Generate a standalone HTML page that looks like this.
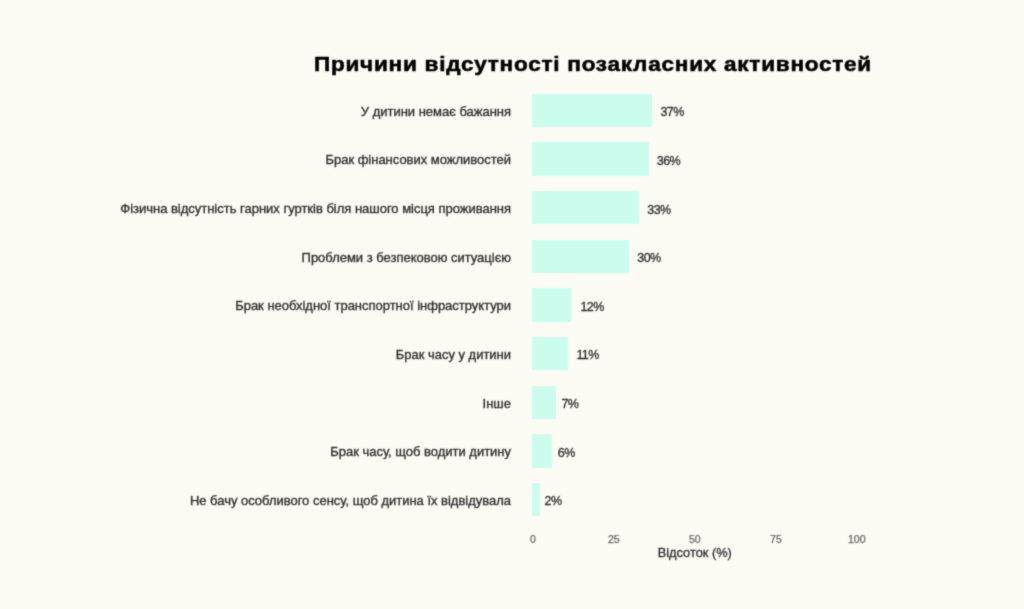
<!DOCTYPE html>
<html><head><meta charset="utf-8"><style>
html,body{margin:0;padding:0;}
body{width:1024px;height:609px;background:#fdfcf4;position:relative;overflow:hidden;font-family:"Liberation Sans",sans-serif;}
#wrap{position:absolute;left:0;top:0;width:1024px;height:609px;background:#fdfcf4;filter:url(#bl);}
.title{position:absolute;left:314px;top:49px;font-size:20.5px;letter-spacing:0.68px;font-weight:bold;color:#000;white-space:nowrap;line-height:30px;transform-origin:0 0;transform:scaleX(1.10);-webkit-text-stroke:0.55px #000;}
.bar{position:absolute;left:532.0px;height:33.6px;background:#cafdee;}
.lab{position:absolute;right:513.0px;font-size:12.97px;color:#2e2e2e;-webkit-text-stroke:0.35px #2e2e2e;white-space:nowrap;line-height:20px;margin-top:-8.8px;}
.val{position:absolute;font-size:12.5px;letter-spacing:-0.6px;color:#2e2e2e;-webkit-text-stroke:0.32px #2e2e2e;white-space:nowrap;line-height:20px;margin-top:-8.2px;}
.tick{position:absolute;top:530.9px;width:40px;margin-left:-20px;text-align:center;font-size:10.6px;color:#666;-webkit-text-stroke:0.25px #666;line-height:16px;}
.axt{position:absolute;top:543px;left:694.8px;width:120px;margin-left:-60px;text-align:center;font-size:12.8px;color:#2a2a2a;-webkit-text-stroke:0.3px #2a2a2a;line-height:20px;}
</style></head><body>
<svg width="0" height="0" style="position:absolute"><filter id="bl" x="0" y="0" width="100%" height="100%" color-interpolation-filters="sRGB"><feConvolveMatrix order="3" kernelMatrix="1 4 1 4 16 4 1 4 1" edgeMode="duplicate"/></filter></svg>
<div id="wrap">
<div class="title" id="title">Причини відсутності позакласних активностей</div>
<div class="bar" style="top:93.60px;width:120.20px"></div>
<div class="lab" style="top:110.40px">У дитини немає бажання</div>
<div class="val" style="top:110.40px;left:660.50px">37%</div>
<div class="bar" style="top:142.25px;width:117.20px"></div>
<div class="lab" style="top:159.05px">Брак фінансових можливостей</div>
<div class="val" style="top:159.05px;left:656.80px">36%</div>
<div class="bar" style="top:190.90px;width:107.40px"></div>
<div class="lab" style="top:207.70px">Фізична відсутність гарних гуртків біля нашого місця проживання</div>
<div class="val" style="top:207.70px;left:647.30px">33%</div>
<div class="bar" style="top:239.55px;width:97.10px"></div>
<div class="lab" style="top:256.35px">Проблеми з безпековою ситуацією</div>
<div class="val" style="top:256.35px;left:637.30px">30%</div>
<div class="bar" style="top:288.20px;width:39.40px"></div>
<div class="lab" style="top:305.00px">Брак необхідної транспортної інфраструктури</div>
<div class="val" style="top:305.00px;left:580.50px">12%</div>
<div class="bar" style="top:336.85px;width:36.10px"></div>
<div class="lab" style="top:353.65px">Брак часу у дитини</div>
<div class="val" style="top:353.65px;left:576.40px">11%</div>
<div class="bar" style="top:385.50px;width:23.90px"></div>
<div class="lab" style="top:402.30px">Інше</div>
<div class="val" style="top:402.30px;left:561.40px">7%</div>
<div class="bar" style="top:434.15px;width:19.70px"></div>
<div class="lab" style="top:450.95px">Брак часу, щоб водити дитину</div>
<div class="val" style="top:450.95px;left:557.80px">6%</div>
<div class="bar" style="top:482.80px;width:8.20px"></div>
<div class="lab" style="top:499.60px">Не бачу особливого сенсу, щоб дитина їх відвідувала</div>
<div class="val" style="top:499.60px;left:544.60px">2%</div>
<div class="tick" style="left:533.00px">0</div>
<div class="tick" style="left:613.80px">25</div>
<div class="tick" style="left:694.80px">50</div>
<div class="tick" style="left:775.90px">75</div>
<div class="tick" style="left:856.80px">100</div>
<div class="axt">Відсоток (%)</div>
</div>
</body></html>
